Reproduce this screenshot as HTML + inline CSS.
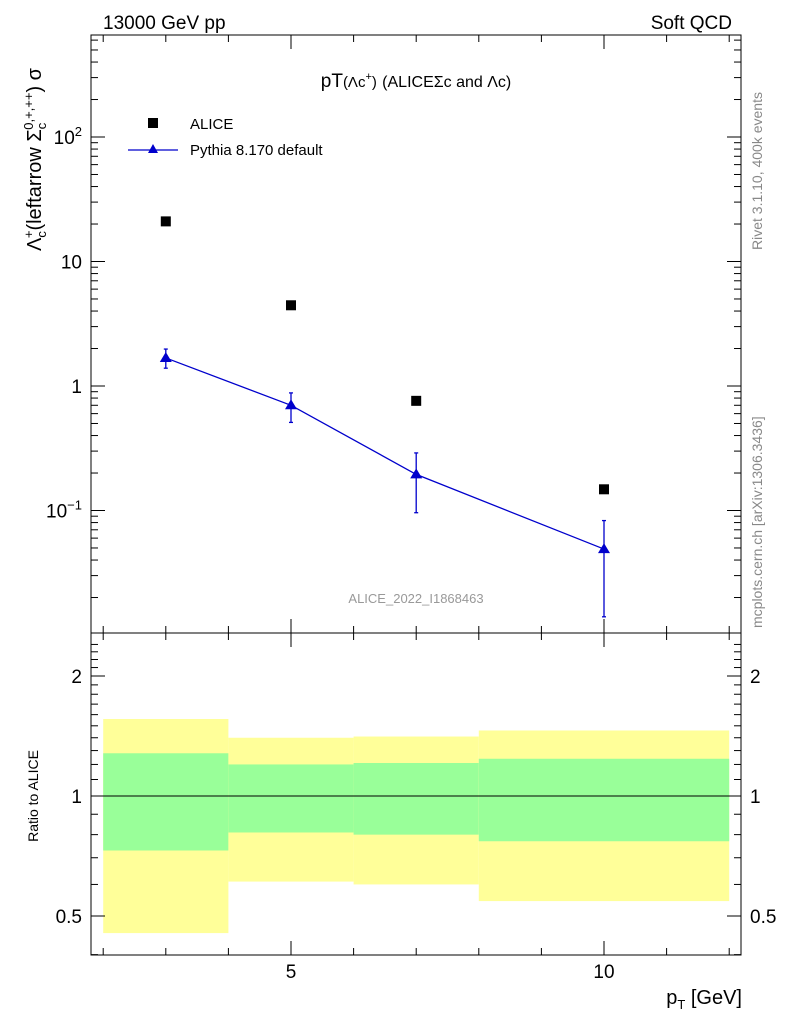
<!DOCTYPE html>
<html><head><meta charset="utf-8"><style>body{margin:0;background:#fff}svg{display:block;font-family:"Liberation Sans",sans-serif}</style></head>
<body>
<svg id="c" width="786" height="1024">
<text x="103" y="29" font-size="19">13000 GeV pp</text>
<text x="732" y="29" font-size="19" text-anchor="end">Soft QCD</text>
<text x="416" y="87" font-size="19" text-anchor="middle">pT<tspan font-size="15">(Λc<tspan dy="-7" font-size="11">+</tspan><tspan dy="7">)</tspan></tspan> <tspan font-size="16">(ALICEΣc and Λc)</tspan></text>
<text transform="translate(762,250) rotate(-90)" font-size="14" fill="#888">Rivet 3.1.10,  400k events</text>
<text transform="translate(762,628) rotate(-90)" font-size="14" fill="#888">mcplots.cern.ch [arXiv:1306.3436]</text>
<text x="416" y="603" font-size="13" fill="#999" text-anchor="middle">ALICE_2022_I1868463</text>
<text transform="translate(41,251) rotate(-90)" font-size="20" text-anchor="start">Λ<tspan font-size="13" dy="5">c</tspan><tspan font-size="13" dy="-13" dx="-7">+</tspan><tspan dy="8">(leftarrow Σ</tspan><tspan font-size="13" dy="5">c</tspan><tspan font-size="13" dy="-13" dx="-7">0,+,++</tspan><tspan dy="8">) σ</tspan></text>
<text transform="translate(38,796) rotate(-90)" font-size="14" text-anchor="middle">Ratio to ALICE</text>
<text x="742" y="1004" font-size="20" text-anchor="end">p<tspan font-size="13" dy="5">T</tspan><tspan dy="-5"> [GeV]</tspan></text>
<g id="legend">
<rect x="148" y="118" width="10" height="10" fill="#000"/>
<text x="190" y="129" font-size="15">ALICE</text>
<line x1="128" y1="150" x2="178" y2="150" stroke="#00c" stroke-width="1.3"/>
<polygon points="153,144 158,153 148,153" fill="#00c"/>
<text x="190" y="155" font-size="15">Pythia 8.170 default</text>
</g>
<g id="g"></g>
</svg>
<script>
const xCenters=[3,5,7,10];
const binLo=[2,4,6,8];
const binHi=[4,6,8,12];
const aliceVals=[21,4.45,0.76,0.148];
const pythiaVals=[1.68,0.70,0.195,0.049];
const pythiaErrUp=[1.98,0.88,0.29,0.083];
const pythiaErrDn=[1.39,0.51,0.096,0.014];
const yelHi=[1.56,1.40,1.41,1.46];
const yelLo=[0.453,0.61,0.60,0.545];
const grnHi=[1.28,1.20,1.21,1.24];
const grnLo=[0.73,0.81,0.80,0.77];
const xTicks=[5,10];
const yTicks=[0.1,1,10,100];
const yTickLabels=["10^-1","1","10","10^2"];
const rTicks=[0.5,1,2];
const rTickLabels=["0.5","1","2"];

const L=91,R=741,T=35,M=633,B=955;
const X=v=>291+(v-5)*62.6;
const Y=v=>386-Math.log10(v)*124.5;
const RY=v=>796-Math.log2(v)*120;
const g=document.getElementById('g');
const NS='http://www.w3.org/2000/svg';
function mk(t,a,p){const e=document.createElementNS(NS,t);for(const k in a)e.setAttribute(k,a[k]);(p||g).appendChild(e);return e;}

for(let i=0;i<binLo.length;i++){
 let e=mk('rect',{x:X(binLo[i]),y:RY(yelHi[i]),width:X(binHi[i])-X(binLo[i]),height:RY(yelLo[i])-RY(yelHi[i]),fill:'#ffff99'});
 
 
 e=mk('rect',{x:X(binLo[i]),y:RY(grnHi[i]),width:X(binHi[i])-X(binLo[i]),height:RY(grnLo[i])-RY(grnHi[i]),fill:'#99ff99'});
 
 
}
let ref=mk('line',{x1:L,x2:R,y1:RY(1),y2:RY(1),stroke:'#000','stroke-width':1});



let f=mk('rect',{x:L,y:T,width:R-L,height:M-T,fill:'none',stroke:'#000','stroke-width':1});


f=mk('rect',{x:L,y:M,width:R-L,height:B-M,fill:'none',stroke:'#000','stroke-width':1});



for(let v=2;v<=12;v++){
 const maj=xTicks.includes(v), len=maj?14:7;
 for(const [y0,d] of [[M,-1],[T,1],[M,1],[B,-1]]) mk('line',{x1:X(v),x2:X(v),y1:y0,y2:y0+d*len,stroke:'#000'});
}
for(const v of xTicks){let t=mk('text',{x:X(v),y:978,'font-size':19,'text-anchor':'middle'});t.textContent=v;
 
 }
for(let d=-2;d<=2;d++)for(let m=1;m<10;m++){
 const v=m*Math.pow(10,d),y=Y(v); if(y<T||y>M)continue;
 const len=m==1?14:7;
 mk('line',{x1:L,x2:L+len,y1:y,y2:y,stroke:'#000'});mk('line',{x1:R,x2:R-len,y1:y,y2:y,stroke:'#000'});
}
yTicks.forEach((v,i)=>{const s=yTickLabels[i];let t=mk('text',{x:82,y:Y(v)+7,'font-size':19,'text-anchor':'end'});
 if(s.includes('^')){const [b,e]=s.split('^');t.innerHTML=b+'<tspan dy="-8" font-size="13">'+e.replace('-','−')+'</tspan>';}else t.textContent=s;
 
 });
for(let v=0.4;v<=2.5;v+=0.1){const y=RY(v);if(y<M||y>B)continue;
 const maj=rTicks.some(r=>Math.abs(r-v)<1e-6),len=maj?14:7;
 mk('line',{x1:L,x2:L+len,y1:y,y2:y,stroke:'#000'});mk('line',{x1:R,x2:R-len,y1:y,y2:y,stroke:'#000'});}
rTicks.forEach((v,i)=>{for(const [x,a] of [[82,'end'],[750,'start']]){let t=mk('text',{x:x,y:RY(v)+7,'font-size':19,'text-anchor':a});t.textContent=rTickLabels[i];
 
 }});

xCenters.forEach((x,i)=>{let e=mk('rect',{x:X(x)-5,y:Y(aliceVals[i])-5,width:10,height:10,fill:'#000'});
 
 });
let line=mk('polyline',{points:xCenters.map((x,i)=>X(x)+','+Y(pythiaVals[i])).join(' '),fill:'none',stroke:'#00c','stroke-width':1.3});


xCenters.forEach((x,i)=>{const cx=X(x);
 mk('line',{x1:cx,x2:cx,y1:Y(pythiaErrUp[i]),y2:Y(pythiaErrDn[i]),stroke:'#00c','stroke-width':1.3});
 for(const v of [pythiaErrUp[i],pythiaErrDn[i]])mk('line',{x1:cx-2,x2:cx+2,y1:Y(v),y2:Y(v),stroke:'#00c','stroke-width':1.3});
 const y=Y(pythiaVals[i]);
 let p=mk('polygon',{points:`${cx},${y-6} ${cx+6},${y+4} ${cx-6},${y+4}`,fill:'#00c'});
 
 });
</script>
</body></html>
